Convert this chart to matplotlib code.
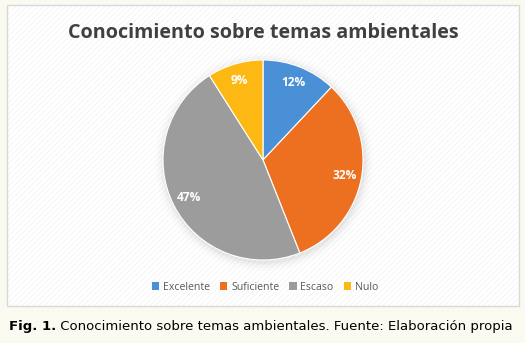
import matplotlib.pyplot as plt
import matplotlib.patches as mpatches

categorias = ["Excelente", "Suficiente", "Escaso", "Nulo"]
porcentajes = [12, 32, 47, 9]
colores = ["#4a90d6", "#ec7020", "#9c9c9c", "#fdb813"]

titulo = "Conocimiento sobre temas ambientales"
pie_fig = "Fig. 1."
pie_texto = " Conocimiento sobre temas ambientales. Fuente: Elaboración propia"

W, H = 525, 343
plt.rcParams['hatch.linewidth'] = 0.4

fig = plt.figure(figsize=(W / 100, H / 100), dpi=100)
fig.patch.set_facecolor("#fbfaf1")

# panel of the chart (kept behind the axes)
fondo = mpatches.Rectangle((7 / W, 1 - 306 / H), 512 / W, 301 / H, transform=fig.transFigure,
                           facecolor="white", edgecolor="#efefef", hatch="//////", linewidth=0,
                           zorder=-10)
fig.patches.append(fondo)
borde = mpatches.Rectangle((7 / W, 1 - 306 / H), 512 / W, 301 / H, transform=fig.transFigure,
                           facecolor="none", edgecolor="#d9d9d9", linewidth=1, zorder=-9)
fig.patches.append(borde)

fig.text(263 / W, 1 - 38 / H, titulo, ha="center", va="baseline", fontsize=14.2,
         fontweight="bold", color="#404040", family="Open Sans")

# pie centred at (263,160) px, radius 100 px
ax = fig.add_axes([163 / W, 1 - 260 / H, 200 / W, 200 / H])
ax.patch.set_visible(False)

# soft shadow
for r, a in [(1.09, 0.025), (1.06, 0.035), (1.035, 0.05), (1.015, 0.07)]:
    ax.add_patch(mpatches.Circle((0.01, -0.02), r, facecolor="#808080", alpha=a, linewidth=0,
                                 clip_on=False))

wedges, textos, autotextos = ax.pie(porcentajes, colors=colores, startangle=90, counterclock=False,
                                    autopct="%d%%", pctdistance=0.83, radius=1.0,
                                    wedgeprops=dict(edgecolor="white", linewidth=0.8),
                                    textprops=dict(color="white", fontsize=8.6, fontweight="bold",
                                                   family="Open Sans"))
ax.set_xlim(-1.0, 1.0)
ax.set_ylim(-1.0, 1.0)
ax.axis("off")

manijas = [mpatches.Patch(facecolor=c, edgecolor="none") for c in colores]
leg = fig.legend(manijas, categorias, loc="center", bbox_to_anchor=(265 / W, 1 - 287 / H),
                 ncol=4, frameon=False, handlelength=0.7, handleheight=0.7, handletextpad=0.35,
                 columnspacing=0.95, prop=dict(family="Open Sans", size=7.6))
for t in leg.get_texts():
    t.set_color("#595959")

# caption under the panel
t1 = fig.text(9 / W, 1 - 330 / H, pie_fig, ha="left", va="baseline", fontsize=9.55,
              fontweight="bold", color="black", family="DejaVu Sans")
fig.canvas.draw()
bb = t1.get_window_extent()
fig.text(bb.x1 / W, 1 - 330 / H, pie_texto, ha="left", va="baseline", fontsize=9.55,
         color="black", family="DejaVu Sans")

fig.savefig("out.png", dpi=100, facecolor=fig.get_facecolor())
